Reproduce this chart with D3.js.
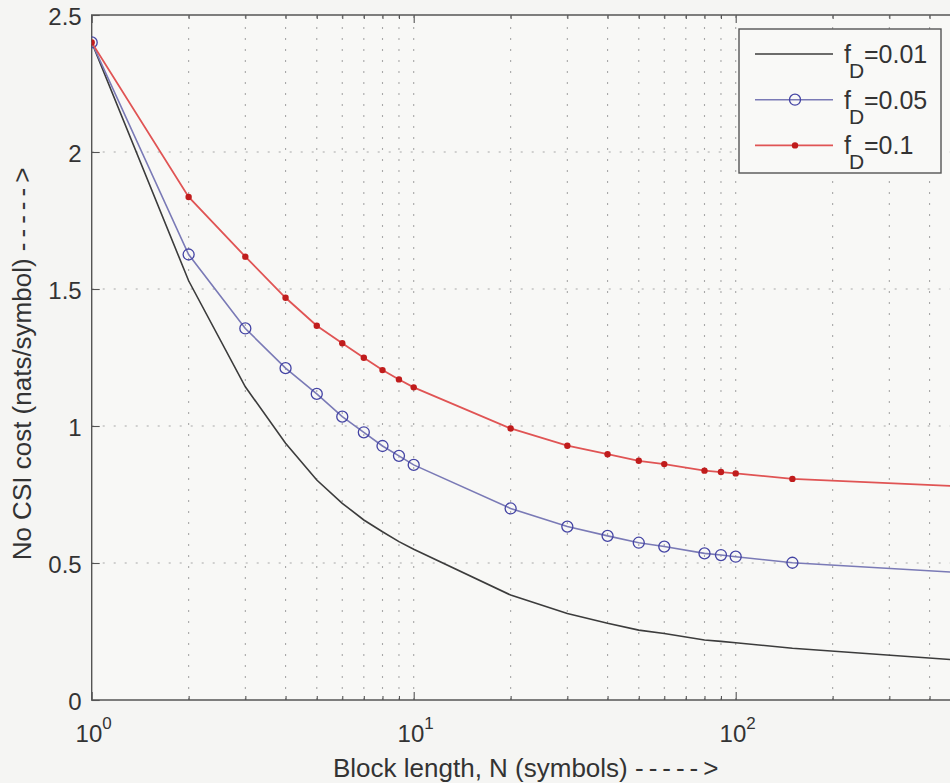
<!DOCTYPE html>
<html>
<head>
<meta charset="utf-8">
<script src="https://cdn.jsdelivr.net/npm/d3@7"></script>
<style>
  html, body { margin: 0; padding: 0; background: #f5f5f3; overflow: hidden; }
  svg { display: block; font-family: "Liberation Sans", Arial, Helvetica, sans-serif; }
</style>
</head>
<body>
<svg id="chart" width="950" height="783"></svg>
<script>
// block lengths N (symbols)
var blockLength = [1, 2, 3, 4, 5, 6, 7, 8, 9, 10, 20, 30, 40, 50, 60, 80, 90, 100, 150, 500];
// no CSI cost (nats/symbol) per Doppler value
var costFd001 = [2.40, 1.53, 1.143, 0.937, 0.803, 0.718, 0.657, 0.614, 0.578, 0.550, 0.383, 0.316, 0.280, 0.255, 0.243, 0.219, 0.214, 0.209, 0.189, 0.145];
var costFd005 = [2.40, 1.626, 1.356, 1.211, 1.117, 1.034, 0.977, 0.927, 0.891, 0.858, 0.699, 0.633, 0.599, 0.574, 0.560, 0.535, 0.529, 0.523, 0.501, 0.465];
var costFd01  = [2.40, 1.836, 1.618, 1.468, 1.366, 1.302, 1.249, 1.204, 1.170, 1.141, 0.991, 0.928, 0.897, 0.873, 0.861, 0.837, 0.832, 0.827, 0.807, 0.780];
var legendValues = ["0.01", "0.05", "0.1"];
var yTicks = [0, 0.5, 1, 1.5, 2, 2.5];
var xDecades = [1, 10, 100];
var xDomain = [1, 500];
var yDomain = [0, 2.5];

(function() {
    "use strict";
    var svg = d3.select("#chart");
    var left = 91.7, top = 15, bottom = 700;
    var right = left + 322 * Math.log10(xDomain[1]);

    var x = d3.scaleLog().domain(xDomain).range([left, right]);
    var y = d3.scaleLinear().domain(yDomain).range([bottom, top]);

    // minor tick / grid positions on the log axis
    var minor = [];
    xDecades.forEach(function(d) {
        for (var k = 1; k <= 9; k++) {
            var v = k * d;
            if (v > 1 && v <= xDomain[1]) minor.push(v);
        }
    });

    svg.append("rect")
        .attr("x", left).attr("y", top)
        .attr("width", right - left).attr("height", bottom - top)
        .attr("fill", "#f8f8f6");

    // dotted grid
    var grid = svg.append("g").attr("stroke", "#a8a8a8").attr("stroke-width", 1.1)
        .attr("stroke-dasharray", "2,9");
    grid.selectAll("line.vx").data(minor).enter().append("line")
        .attr("x1", function(d) { return x(d); }).attr("x2", function(d) { return x(d); })
        .attr("y1", bottom).attr("y2", top);
    grid.selectAll("line.hy").data(yTicks.slice(1, -1)).enter().append("line")
        .attr("y1", function(d) { return y(d); }).attr("y2", function(d) { return y(d); })
        .attr("x1", left).attr("x2", right);

    // ticks (inward, MATLAB style)
    var minorOnly = minor.filter(function(v) { return xDecades.indexOf(v) < 0; });
    svg.append("g").attr("transform", "translate(0," + bottom + ")")
        .call(d3.axisBottom(x).tickValues(minorOnly).tickSize(-4).tickFormat(""));
    svg.append("g").attr("transform", "translate(0," + bottom + ")")
        .call(d3.axisBottom(x).tickValues(xDecades).tickSize(-8).tickFormat(""));
    svg.append("g").attr("transform", "translate(0," + top + ")")
        .call(d3.axisTop(x).tickValues(minorOnly).tickSize(-4).tickFormat(""));
    svg.append("g").attr("transform", "translate(0," + top + ")")
        .call(d3.axisTop(x).tickValues(xDecades).tickSize(-8).tickFormat(""));
    var yAxis = svg.append("g").attr("transform", "translate(" + left + ",0)")
        .call(d3.axisLeft(y).tickValues(yTicks).tickSize(-8).tickPadding(10)
            .tickFormat(function(d) { return String(d); }));
    yAxis.selectAll("text").attr("font-size", 24).attr("fill", "#333")
        .attr("dy", "0.4em").style("font-family", "inherit");
    svg.selectAll(".domain").remove();
    svg.selectAll(".tick line").attr("stroke", "#555").attr("stroke-width", 1.1);

    // x tick labels 10^k
    var xl = svg.append("g").attr("fill", "#333");
    xDecades.forEach(function(d) {
        var t = xl.append("text").attr("x", x(d) + 2).attr("y", 742)
            .attr("text-anchor", "middle").attr("font-size", 24);
        t.append("tspan").text("10");
        t.append("tspan").attr("font-size", 17).attr("dy", -13).text(String(Math.round(Math.log10(d))));
    });

    // axes box
    svg.append("path")
        .attr("d", "M" + right + "," + top + "H" + left + "V" + bottom + "H" + right)
        .attr("fill", "none").attr("stroke", "#555").attr("stroke-width", 1.4);

    // series
    var clip = svg.append("clipPath").attr("id", "plotclip").append("rect")
        .attr("x", left).attr("y", top - 8).attr("width", right - left + 8).attr("height", bottom - top + 16);
    var plot = svg.append("g").attr("clip-path", "url(#plotclip)");
    var line = d3.line()
        .x(function(d) { return x(d[0]); })
        .y(function(d) { return y(d[1]); });
    var zip = function(vals) { return blockLength.map(function(n, i) { return [n, vals[i]]; }); };

    var black = zip(costFd001), blue = zip(costFd005), red = zip(costFd01);

    plot.append("path").datum(black).attr("d", line)
        .attr("fill", "none").attr("stroke", "#3c3c3c").attr("stroke-width", 1.6);
    plot.append("path").datum(blue).attr("d", line)
        .attr("fill", "none").attr("stroke", "#7a7ab6").attr("stroke-width", 1.6);
    plot.selectAll("circle.b").data(blue).enter().append("circle")
        .attr("cx", function(d) { return x(d[0]); }).attr("cy", function(d) { return y(d[1]); })
        .attr("r", 5.5).attr("fill", "none").attr("stroke", "#4444a4").attr("stroke-width", 1.3);
    plot.append("path").datum(red).attr("d", line)
        .attr("fill", "none").attr("stroke", "#e05454").attr("stroke-width", 1.8);
    plot.selectAll("circle.r").data(red).enter().append("circle")
        .attr("cx", function(d) { return x(d[0]); }).attr("cy", function(d) { return y(d[1]); })
        .attr("r", 3.2).attr("fill", "#c01c1c");

    // legend
    var lg = svg.append("g");
    lg.append("rect").attr("x", 739).attr("y", 29).attr("width", 202).attr("height", 144)
        .attr("fill", "#f9f9f7").attr("stroke", "#555").attr("stroke-width", 1.4);
    var styles = [
        { stroke: "#3c3c3c", marker: null },
        { stroke: "#7a7ab6", marker: "circle" },
        { stroke: "#e05454", marker: "dot" }
    ];
    legendValues.forEach(function(v, i) {
        var ly = 54 + i * 45.7;
        lg.append("line").attr("x1", 755).attr("x2", 833).attr("y1", ly).attr("y2", ly)
            .attr("stroke", styles[i].stroke).attr("stroke-width", 1.6);
        if (styles[i].marker === "circle") {
            lg.append("circle").attr("cx", 795).attr("cy", ly).attr("r", 5.5)
                .attr("fill", "none").attr("stroke", "#4444a4").attr("stroke-width", 1.3);
        } else if (styles[i].marker === "dot") {
            lg.append("circle").attr("cx", 795).attr("cy", ly).attr("r", 3.2).attr("fill", "#c01c1c");
        }
        var t = lg.append("text").attr("y", ly + 9).attr("fill", "#333").attr("font-size", 25);
        t.append("tspan").attr("x", 844).text("f");
        t.append("tspan").attr("x", 849).attr("dy", 15).attr("font-size", 21).text("D");
        t.append("tspan").attr("x", 864).attr("dy", -15).text("=" + v);
    });

    // axis labels
    var xlab = svg.append("text").attr("x", (left + right) / 2 + 2).attr("y", 777)
        .attr("text-anchor", "middle").attr("font-size", 26).attr("fill", "#333");
    xlab.append("tspan").text("Block length, N (symbols) ");
    xlab.append("tspan").attr("letter-spacing", 5).text("----->");

    var ylab = svg.append("text")
        .attr("transform", "translate(31," + ((top + bottom) / 2 + 4) + ") rotate(-90)")
        .attr("text-anchor", "middle").attr("font-size", 26).attr("fill", "#333");
    ylab.append("tspan").text("No CSI cost (nats/symbol) ");
    ylab.append("tspan").attr("letter-spacing", 5).text("----->");
})();
</script>
</body>
</html>
